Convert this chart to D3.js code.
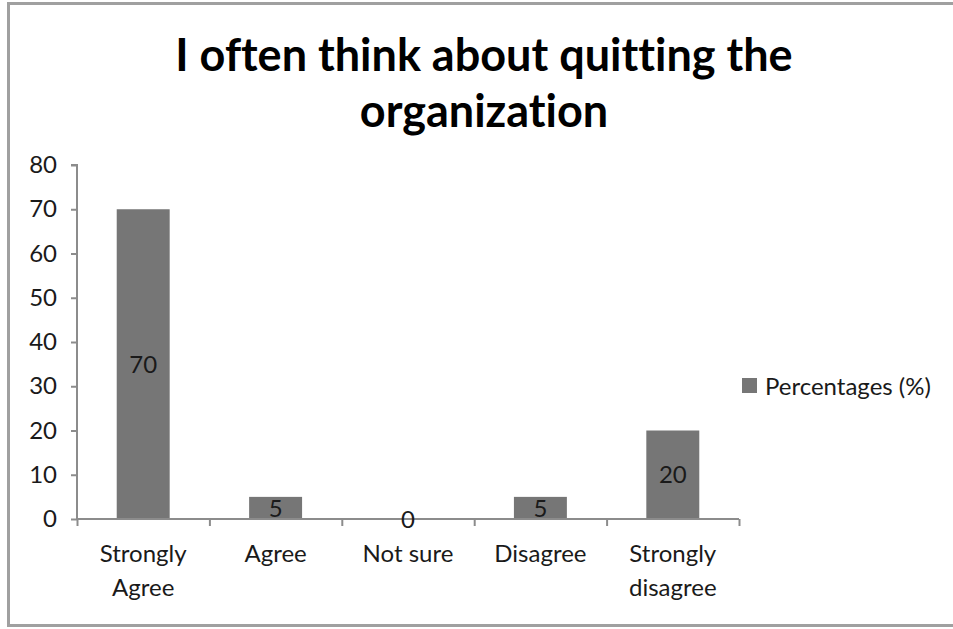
<!DOCTYPE html>
<html><head><meta charset="utf-8">
<script src="https://cdn.jsdelivr.net/npm/d3@7"></script>
<style>
html,body{margin:0;padding:0;background:#fff;}
svg{display:block;font-family:Lato, "Open Sans", sans-serif;font-variant-ligatures:none;font-feature-settings:"liga" 0;}
</style></head>
<body>
<script>
const categories = [["Strongly","Agree"],["Agree"],["Not sure"],["Disagree"],["Strongly","disagree"]];
const values = [70, 5, 0, 5, 20];
const yTicks = [0,10,20,30,40,50,60,70,80];
const seriesName = "Percentages (%)";
const titleLines = ["I often think about quitting the","organization"];

const W = 953, H = 629;
const svg = d3.select("body").append("svg").attr("width", W).attr("height", H);

svg.append("rect").attr("x",8.5).attr("y",3.5).attr("width",W+10).attr("height",622)
  .attr("fill","#fff").attr("stroke","#a0a0a0").attr("stroke-width",3);

const x0 = 77, x1 = 739, yTop = 165, yBot = 519;
const keys = categories.map((c,i)=>i);
const x = d3.scaleBand().domain(keys).range([x0,x1]).paddingInner(0.6).paddingOuter(0.3);
const y = d3.scaleLinear().domain([0,80]).range([yBot,yTop]);

// title
svg.append("g").selectAll("text").data(titleLines).join("text")
  .attr("x",484).attr("y",(d,i)=>71+i*56)
  .attr("text-anchor","middle").attr("font-size",45).attr("font-weight",700).attr("fill","#000")
  .text(d=>d);

// bars
svg.append("g").selectAll("rect").data(values).join("rect")
  .attr("x",(d,i)=>x(i)).attr("width",x.bandwidth())
  .attr("y",d=>y(d)).attr("height",d=>y(0)-y(d)).attr("fill","#767676");

// y axis
const yAxis = d3.axisLeft(y).tickValues(yTicks).tickSize(6).tickPadding(14);
const gy = svg.append("g").attr("transform",`translate(${x0},0)`).call(yAxis);
gy.select(".domain").attr("stroke","#8c8c8c").attr("stroke-width",2).attr("d",`M-6,${yTop}H0V${yBot}`);
gy.selectAll(".tick line").attr("stroke","#8c8c8c").attr("stroke-width",2);
gy.selectAll(".tick text").attr("font-size",24).attr("fill","#1a1a1a").attr("font-family","Lato, sans-serif");

// x axis
const xb = d3.scaleLinear().domain([0,categories.length]).range([x0,x1]);
const xAxis = d3.axisBottom(xb).tickValues(d3.range(categories.length+1)).tickSize(7).tickFormat("");
const gx = svg.append("g").attr("transform",`translate(0,${yBot})`).call(xAxis);
gx.select(".domain").attr("stroke","#8c8c8c").attr("stroke-width",2).attr("d",`M${x0},0H${x1}`);
gx.selectAll(".tick line").attr("stroke","#8c8c8c").attr("stroke-width",2);

// category labels
const cl = svg.append("g").selectAll("text").data(categories).join("text")
  .attr("x",(d,i)=>x(i)+x.bandwidth()/2).attr("y",562)
  .attr("text-anchor","middle").attr("font-size",24).attr("fill","#1a1a1a");
cl.selectAll("tspan").data(d=>d).join("tspan")
  .attr("x",function(){return this.parentNode.getAttribute("x");})
  .attr("dy",(d,i)=>i?34:0).text(d=>d);

// data labels
svg.append("g").selectAll("text").data(values).join("text")
  .attr("x",(d,i)=>x(i)+x.bandwidth()/2).attr("y",d=>(y(d)+y(0))/2)
  .attr("dy","0.36em").attr("text-anchor","middle").attr("font-size",24).attr("fill","#1a1a1a")
  .text(d=>d);

// legend
const lg = svg.append("g").attr("transform","translate(742,378)");
lg.append("rect").attr("width",15).attr("height",15).attr("fill","#767676");
lg.append("text").attr("x",23).attr("y",8).attr("dy","0.36em").attr("font-size",24).attr("fill","#1a1a1a").text(seriesName);
</script>
</body></html>
